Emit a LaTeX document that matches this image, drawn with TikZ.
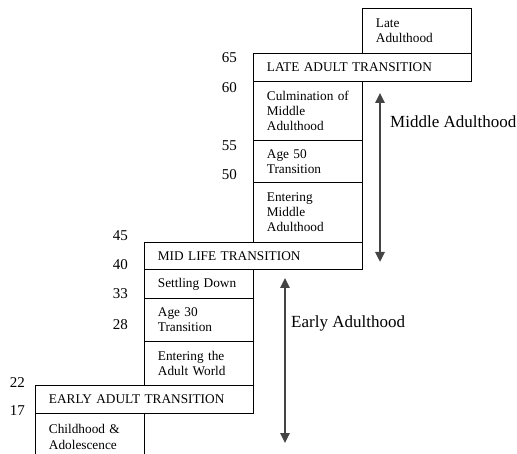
\documentclass[tikz,border=0pt]{standalone}
\usepackage{fontspec}
\setmainfont{Liberation Serif}
\usetikzlibrary{arrows.meta}
\newcommand{\boxfont}{\fontsize{13.3}{15.2}\selectfont}
\newcommand{\agefont}{\fontsize{15}{17}\selectfont}
\newcommand{\erafont}{\fontsize{17}{20}\selectfont}
\definecolor{spangray}{HTML}{444444}
\tikzset{
  stage/.style={draw, line width=0.8pt, rectangle, anchor=north west,
    inner sep=0pt, font=\boxfont, align=left,
    minimum width=109pt, text width=82pt},
  widestage/.style={stage, minimum width=218pt, text width=191pt},
  age/.style={anchor=east, inner sep=0pt, font=\agefont},
  era/.style={anchor=west, inner sep=0pt, font=\erafont},
  span/.style={spangray, line width=2.4pt,
    {Triangle[width=9pt,length=10pt]}-{Triangle[width=9pt,length=10pt]}}
}
\begin{document}
\begin{tikzpicture}[x=1pt, y=-1pt]
\useasboundingbox (0,0) rectangle (517,454);

% stair of life stages
\node[stage, minimum height=45pt] (late) at (362,8) {Late\\Adulthood};
\node[widestage, minimum height=28pt] (lat) at (253,53) {LATE ADULT TRANSITION};
\node[stage, minimum height=59pt] (culm) at (253,81) {Culmination~of\\Middle\\Adulthood};
\node[stage, minimum height=42pt] (age50) at (253,140) {Age 50\\Transition};
\node[stage, minimum height=60pt] (emid) at (253,182) {Entering\\Middle\\Adulthood};
\node[widestage, minimum height=27pt] (mlt) at (144,242) {MID LIFE TRANSITION};
\node[stage, minimum height=29pt] (settle) at (144,269) {Settling Down};
\node[stage, minimum height=43pt] (age30) at (144,298) {Age 30\\Transition};
\node[stage, minimum height=44pt] (entw) at (144,341) {Entering the\\Adult World};
\node[widestage, minimum height=28pt] (eat) at (35,385) {EARLY ADULT TRANSITION};
\node[stage, minimum height=47pt] (child) at (35,413) {Childhood \&\\Adolescence};

% ages
\node[age] (a65) at (237,58) {65};
\node[age] (a60) at (237,88) {60};
\node[age] (a55) at (237,146) {55};
\node[age] (a50) at (237,175) {50};
\node[age] (a45) at (128,236) {45};
\node[age] (a40) at (128,265) {40};
\node[age] (a33) at (128,294) {33};
\node[age] (a28) at (128,325) {28};
\node[age] (a22) at (25,383) {22};
\node[age] (a17) at (25,411) {17};

% eras
\coordinate (mtop) at (380,93);
\coordinate (mbot) at (380,262);
\draw[span] (mtop) -- (mbot);
\node[era] (middle) at (390,122) {Middle Adulthood};

\coordinate (etop) at (285,278);
\coordinate (ebot) at (285,443);
\draw[span] (etop) -- (ebot);
\node[era] (early) at (291,323) {Early Adulthood};
\end{tikzpicture}
\end{document}
